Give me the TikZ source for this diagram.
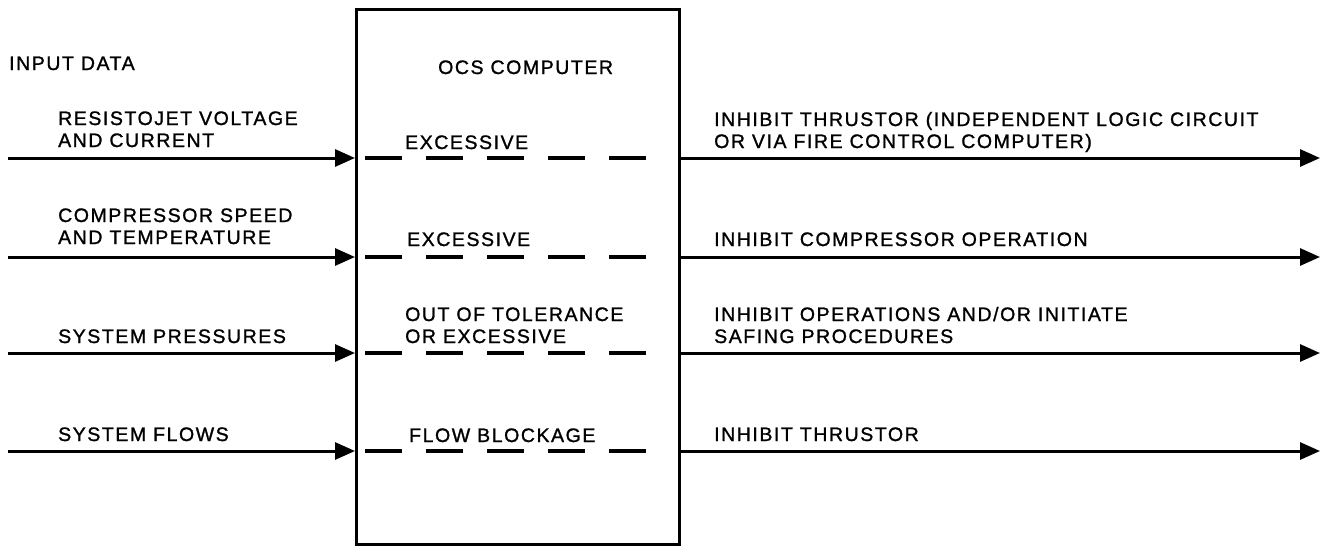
\documentclass[tikz,border=0pt]{standalone}
\usepackage{fontspec}
\setmainfont{Liberation Sans}[LetterSpace=8,FakeBold=1.2]
\usetikzlibrary{arrows.meta}
\newcommand\twolines[2]{\vtop{\baselineskip=22pt\hbox{#1}\hbox{#2}}}
\begin{document}
\begin{tikzpicture}[x=1pt,y=-1pt,
  lbl/.style={anchor=base west, inner sep=0pt, font=\fontsize{19.5}{22}\selectfont},
  flow/.style={line width=3pt, -{Triangle[length=20pt,width=17pt]}},
  dashln/.style={line width=3.5pt, dash pattern=on 37pt off 24pt},
  ]
\useasboundingbox[fill=white] (0,0) rectangle (1325,549);
\node[draw, line width=2.5pt, minimum width=323pt, minimum height=535pt, inner sep=0pt, anchor=north west] (ocs) at (355,8) {};

\coordinate (i1) at (8,158);  \coordinate (o1) at (1320,158);
\coordinate (i2) at (8,257);  \coordinate (o2) at (1320,257);
\coordinate (i3) at (8,353);  \coordinate (o3) at (1320,353);
\coordinate (i4) at (8,451);  \coordinate (o4) at (1320,451);

\foreach \k in {1,2,3,4}{
  \draw[flow] (i\k) -- (i\k -| ocs.west);
  \draw[flow] (o\k -| ocs.east) -- (o\k);
  \draw[dashln] ([xshift=10pt]i\k -| ocs.west) -- ([xshift=-25pt]i\k -| ocs.east);
}

\node[lbl] (hin) at (9,70) {INPUT DATA};
\node[lbl] (hocs) at (438,74) {OCS COMPUTER};

\node[lbl] (a1) at (58,125) {\twolines{RESISTOJET VOLTAGE}{AND CURRENT}};
\node[lbl] (a2) at (58,222) {\twolines{COMPRESSOR SPEED}{AND TEMPERATURE}};
\node[lbl] (a3) at (58,343) {SYSTEM PRESSURES};
\node[lbl] (a4) at (58,441) {SYSTEM FLOWS};

\node[lbl] (b1) at (405,149) {EXCESSIVE};
\node[lbl] (b2) at (407,246) {EXCESSIVE};
\node[lbl] (b3) at (405,321) {\twolines{OUT OF TOLERANCE}{OR EXCESSIVE}};
\node[lbl] (b4) at (409,442) {FLOW BLOCKAGE};

\node[lbl] (c1) at (714,126) {\twolines{INHIBIT THRUSTOR (INDEPENDENT LOGIC CIRCUIT}{OR VIA FIRE CONTROL COMPUTER)}};
\node[lbl] (c2) at (714,246) {INHIBIT COMPRESSOR OPERATION};
\node[lbl] (c3) at (714,321) {\twolines{INHIBIT OPERATIONS AND/OR INITIATE}{SAFING PROCEDURES}};
\node[lbl] (c4) at (714,441) {INHIBIT THRUSTOR};
\end{tikzpicture}
\end{document}
